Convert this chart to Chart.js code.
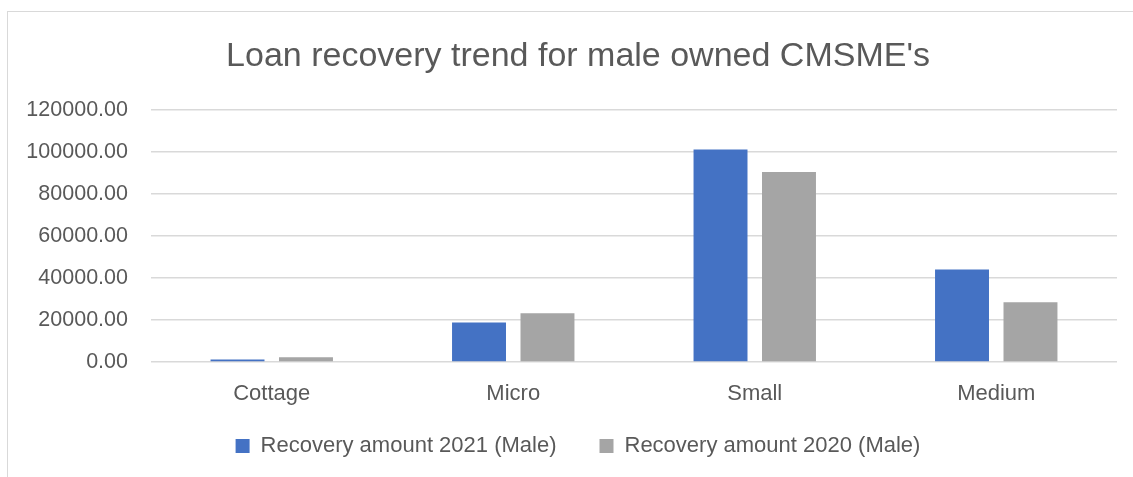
<!DOCTYPE html>
<html>
<head>
<meta charset="utf-8">
<title>Loan recovery trend for male owned CMSME's</title>
<script src="https://cdn.jsdelivr.net/npm/chart.js@4.4.1/dist/chart.umd.min.js"></script>
<style>
  html, body { margin: 0; padding: 0; background: #fff; overflow: hidden; }
  body { width: 1133px; height: 477px; position: relative; }
  .chart-box {
    position: absolute;
    left: 7px;
    top: 11px;
    width: 1141px;
    height: 480px;
    border: 1px solid #d9d9d9;
  }
  #recoveryChart { display: block; }
</style>
</head>
<body>
<div class="chart-box">
  <canvas id="recoveryChart" width="1141" height="466"></canvas>
</div>
<script>
// Chart data
const categories = ['Cottage', 'Micro', 'Small', 'Medium'];
const recovery2021 = [1150, 18800, 101100, 44000];
const recovery2020 = [2250, 23200, 90400, 28400];
const seriesLabels = ['Recovery amount 2021 (Male)', 'Recovery amount 2020 (Male)'];
const yTicks = [0, 20000, 40000, 60000, 80000, 100000, 120000];

const textColor = '#595959';
const gridColor = '#d9d9d9';

Chart.defaults.font.family = '"Liberation Sans", Arial, sans-serif';
Chart.defaults.color = textColor;

// Axis boxes are sized by hand below, so let tick labels spill past them
const noLabelClip = {
  id: 'noLabelClip',
  beforeDraw(chart) {
    Object.values(chart.scales).forEach(s => { s._computeLabelArea = () => undefined; });
  }
};

function initRecoveryChart() {
  const ctx = document.getElementById('recoveryChart');
  if (!ctx) return;
  new Chart(ctx, {
    type: 'bar',
    data: {
      labels: categories,
      datasets: [
        { label: seriesLabels[0], data: recovery2021, backgroundColor: '#4472C4', borderWidth: 0,
          categoryPercentage: 0.567, barPercentage: 0.788 },
        { label: seriesLabels[1], data: recovery2020, backgroundColor: '#A5A5A5', borderWidth: 0,
          categoryPercentage: 0.567, barPercentage: 0.788 }
      ]
    },
    plugins: [noLabelClip],
    options: {
      responsive: false,
      animation: false,
      devicePixelRatio: 1,
      layout: { padding: { left: 31, right: 32, top: 0, bottom: 11 } },
      plugins: {
        title: {
          display: true,
          text: "Loan recovery trend for male owned CMSME's",
          color: textColor,
          font: { size: 34, weight: 'normal' },
          padding: { top: 24, bottom: 33 }
        },
        legend: {
          position: 'bottom',
          labels: {
            color: textColor,
            font: { size: 22 },
            boxWidth: 14,
            boxHeight: 14,
            padding: 43
          }
        },
        tooltip: { enabled: false }
      },
      scales: {
        x: {
          grid: { display: false, drawTicks: false },
          border: { display: false },
          ticks: { color: textColor, font: { size: 22 }, padding: 18.5 },
          afterFit: scale => { scale.height = 30; }
        },
        y: {
          min: 0,
          max: yTicks[yTicks.length - 1],
          afterBuildTicks: scale => { scale.ticks = yTicks.map(v => ({ value: v })); },
          grid: { color: gridColor, lineWidth: 1.5, drawTicks: false },
          border: { display: false },
          ticks: {
            color: textColor,
            font: { size: 21.5 },
            padding: 23,
            callback: v => Number(v).toFixed(2)
          },
          afterFit: scale => { scale.width = 112; }
        }
      }
    }
  });
}

document.addEventListener('DOMContentLoaded', initRecoveryChart);
</script>
</body>
</html>
